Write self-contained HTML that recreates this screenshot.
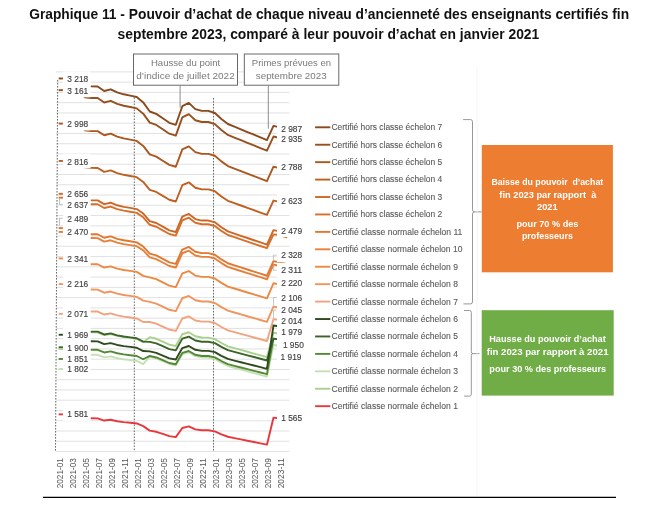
<!DOCTYPE html><html><head><meta charset="utf-8"><style>html,body{margin:0;padding:0;background:#fff}svg{display:block}text{font-family:"Liberation Sans",Arial,sans-serif}.n{font-size:8.7px;fill:#404040;stroke:#404040;stroke-width:0.15px}.lg{font-size:8.5px;fill:#595959;stroke:#595959;stroke-width:0.1px}.ax{font-size:8.4px;fill:#555}</style></head><body>
<svg width="647" height="508" viewBox="0 0 647 508">
<rect width="647" height="508" fill="#fff"/>
<text x="29.2" y="18.6" font-size="14.3" font-weight="bold" fill="#111" textLength="599.9" lengthAdjust="spacingAndGlyphs">Graphique 11 - Pouvoir d’achat de chaque niveau d’ancienneté des enseignants certifiés fin</text>
<text x="117.6" y="39.4" font-size="14.3" font-weight="bold" fill="#111" textLength="421.7" lengthAdjust="spacingAndGlyphs">septembre 2023, comparé à leur pouvoir d’achat en janvier 2021</text>
<path d="M55.9 71.90H289.4 M55.9 82.16H289.4 M55.9 92.42H289.4 M55.9 102.68H289.4 M55.9 112.94H289.4 M55.9 123.20H289.4 M55.9 133.46H289.4 M55.9 143.72H289.4 M55.9 153.98H289.4 M55.9 164.24H289.4 M55.9 174.50H289.4 M55.9 184.76H289.4 M55.9 195.02H289.4 M55.9 205.28H289.4 M55.9 215.54H289.4 M55.9 225.80H289.4 M55.9 236.06H289.4 M55.9 246.32H289.4 M55.9 256.58H289.4 M55.9 266.84H289.4 M55.9 277.10H289.4 M55.9 287.36H289.4 M55.9 297.62H289.4 M55.9 307.88H289.4 M55.9 318.14H289.4 M55.9 328.40H289.4 M55.9 338.66H289.4 M55.9 348.92H289.4 M55.9 359.18H289.4 M55.9 369.44H289.4 M55.9 379.70H289.4 M55.9 389.96H289.4 M55.9 400.22H289.4 M55.9 410.48H289.4 M55.9 420.74H289.4 M55.9 431.00H289.4 M55.9 441.26H289.4 M55.9 451.52H289.4" stroke="#d9d9d9" stroke-width="0.8" fill="none"/>
<path d="M57.7 80L55.5 451M134.3 97.5V451M213.5 97.9V451" stroke="#4a4a4a" stroke-width="0.85" stroke-dasharray="1.6 1.4" fill="none"/>
<path d="M91.16 86.40 L97.67 86.50 L104.18 91.00 L110.69 89.30 L117.20 92.40 L123.71 94.30 L130.22 95.60 L136.73 97.00 L143.24 102.40 L149.75 111.50 L156.27 113.90 L162.78 118.30 L169.29 122.80 L175.80 124.80 L182.31 106.20 L188.82 102.90 L195.33 109.10 L201.84 110.90 L208.35 110.90 L214.86 113.00 L221.38 119.00 L227.89 124.00 L234.40 126.68 L240.91 129.37 L247.42 132.05 L253.93 134.73 L260.44 137.42 L266.95 140.10 L273.46 125.87 L279.97 127.40 L286.49 128.93" stroke="#8a4a1e" stroke-width="1.9" fill="none" stroke-linejoin="round" stroke-linecap="round"/>
<path d="M84.64 97.36 L91.16 97.96 L97.67 98.05 L104.18 102.47 L110.69 100.80 L117.20 103.85 L123.71 105.72 L130.22 106.99 L136.73 108.37 L143.24 113.67 L149.75 122.61 L156.27 124.97 L162.78 129.29 L169.29 133.71 L175.80 135.68 L182.31 117.41 L188.82 114.16 L195.33 120.25 L201.84 122.02 L208.35 122.02 L214.86 124.08 L221.38 129.98 L227.89 134.89 L234.40 137.53 L240.91 140.16 L247.42 142.80 L253.93 145.43 L260.44 148.07 L266.95 150.70 L273.46 136.54 L279.97 138.04 L286.49 139.55" stroke="#98501f" stroke-width="1.9" fill="none" stroke-linejoin="round" stroke-linecap="round"/>
<path d="M84.64 130.40 L91.16 131.00 L97.67 131.09 L104.18 135.29 L110.69 133.70 L117.20 136.59 L123.71 138.36 L130.22 139.57 L136.73 140.88 L143.24 145.91 L149.75 154.39 L156.27 156.62 L162.78 160.72 L169.29 164.91 L175.80 166.78 L182.31 149.45 L188.82 146.37 L195.33 152.15 L201.84 153.83 L208.35 153.83 L214.86 155.78 L221.38 161.37 L227.89 166.03 L234.40 168.53 L240.91 171.03 L247.42 173.53 L253.93 176.03 L260.44 178.53 L266.95 181.03 L273.46 166.70 L279.97 168.13 L286.49 169.56" stroke="#ad571e" stroke-width="1.9" fill="none" stroke-linejoin="round" stroke-linecap="round"/>
<path d="M84.64 167.30 L91.16 167.90 L97.67 167.99 L104.18 171.92 L110.69 170.44 L117.20 173.15 L123.71 174.81 L130.22 175.95 L136.73 177.18 L143.24 181.90 L149.75 189.86 L156.27 191.96 L162.78 195.81 L169.29 199.75 L175.80 201.50 L182.31 185.23 L188.82 182.34 L195.33 187.76 L201.84 189.34 L208.35 189.34 L214.86 191.18 L221.38 196.43 L227.89 200.80 L234.40 203.15 L240.91 205.50 L247.42 207.85 L253.93 210.19 L260.44 212.54 L266.95 214.89 L273.46 200.56 L279.97 201.91 L286.49 203.25" stroke="#bf5f20" stroke-width="1.9" fill="none" stroke-linejoin="round" stroke-linecap="round"/>
<path d="M91.16 200.34 L97.67 200.42 L104.18 204.13 L110.69 202.73 L117.20 205.29 L123.71 206.86 L130.22 207.93 L136.73 209.09 L143.24 213.54 L149.75 221.05 L156.27 223.03 L162.78 226.67 L169.29 230.38 L175.80 232.03 L182.31 216.68 L188.82 213.96 L195.33 219.07 L201.84 220.56 L208.35 220.56 L214.86 222.29 L221.38 227.24 L227.89 231.37 L234.40 233.59 L240.91 235.80 L247.42 238.01 L253.93 240.23 L260.44 242.44 L266.95 244.66 L273.46 230.11 L279.97 231.38 L286.49 232.65" stroke="#cc6826" stroke-width="1.9" fill="none" stroke-linejoin="round" stroke-linecap="round"/>
<path d="M91.16 204.19 L97.67 204.27 L104.18 207.96 L110.69 206.57 L117.20 209.11 L123.71 210.66 L130.22 211.73 L136.73 212.88 L143.24 217.30 L149.75 224.76 L156.27 226.72 L162.78 230.33 L169.29 234.02 L175.80 235.66 L182.31 220.41 L188.82 217.71 L195.33 222.79 L201.84 224.27 L208.35 224.27 L214.86 225.99 L221.38 230.90 L227.89 235.00 L234.40 237.20 L240.91 239.40 L247.42 241.60 L253.93 243.80 L260.44 245.99 L266.95 248.19 L273.46 234.42 L279.97 235.00 L286.49 237.30" stroke="#d8702b" stroke-width="1.9" fill="none" stroke-linejoin="round" stroke-linecap="round"/>
<path d="M91.16 234.19 L97.67 234.27 L104.18 237.75 L110.69 236.44 L117.20 238.83 L123.71 240.30 L130.22 241.31 L136.73 242.39 L143.24 246.57 L149.75 253.61 L156.27 255.46 L162.78 258.87 L169.29 262.35 L175.80 263.89 L182.31 249.51 L188.82 246.96 L195.33 251.75 L201.84 253.14 L208.35 253.14 L214.86 254.77 L221.38 259.41 L227.89 263.28 L234.40 265.35 L240.91 267.43 L247.42 269.50 L253.93 271.58 L260.44 273.65 L266.95 275.73 L273.46 261.09 L279.97 262.20 L286.49 264.00" stroke="#df7830" stroke-width="1.9" fill="none" stroke-linejoin="round" stroke-linecap="round"/>
<path d="M91.16 238.05 L97.67 238.12 L104.18 241.58 L110.69 240.27 L117.20 242.65 L123.71 244.11 L130.22 245.11 L136.73 246.18 L143.24 250.33 L149.75 257.31 L156.27 259.15 L162.78 262.53 L169.29 265.98 L175.80 267.52 L182.31 253.24 L188.82 250.71 L195.33 255.47 L201.84 256.85 L208.35 256.85 L214.86 258.46 L221.38 263.07 L227.89 266.91 L234.40 268.97 L240.91 271.02 L247.42 273.08 L253.93 275.14 L260.44 277.20 L266.95 279.26 L273.46 264.58 L279.97 265.77 L286.49 266.95" stroke="#e6803a" stroke-width="1.9" fill="none" stroke-linejoin="round" stroke-linecap="round"/>
<path d="M91.16 264.20 L97.67 264.27 L104.18 267.54 L110.69 266.31 L117.20 268.56 L123.71 269.95 L130.22 270.89 L136.73 271.91 L143.24 275.84 L149.75 277.36 L156.27 279.12 L162.78 282.36 L169.29 285.67 L175.80 287.14 L182.31 273.46 L188.82 271.03 L195.33 275.59 L201.84 276.92 L208.35 276.92 L214.86 278.46 L221.38 282.87 L227.89 286.55 L234.40 288.53 L240.91 290.50 L247.42 292.47 L253.93 294.45 L260.44 296.42 L266.95 298.40 L273.46 283.26 L279.97 284.39 L286.49 285.53" stroke="#ec8943" stroke-width="1.9" fill="none" stroke-linejoin="round" stroke-linecap="round"/>
<path d="M91.16 289.54 L97.67 289.61 L104.18 292.71 L110.69 291.54 L117.20 293.67 L123.71 294.98 L130.22 295.88 L136.73 296.84 L143.24 300.56 L149.75 301.92 L156.27 303.60 L162.78 306.66 L169.29 309.79 L175.80 311.19 L182.31 298.23 L188.82 295.94 L195.33 300.25 L201.84 301.51 L208.35 301.51 L214.86 302.97 L221.38 307.15 L227.89 310.63 L234.40 312.50 L240.91 314.37 L247.42 316.24 L253.93 318.11 L260.44 319.97 L266.95 321.84 L273.46 306.65 L279.97 307.73 L286.49 308.81" stroke="#f0955e" stroke-width="1.9" fill="none" stroke-linejoin="round" stroke-linecap="round"/>
<path d="M91.16 311.50 L97.67 311.57 L104.18 314.51 L110.69 313.40 L117.20 315.43 L123.71 316.67 L130.22 317.53 L136.73 318.44 L143.24 321.98 L149.75 322.04 L156.27 323.63 L162.78 326.56 L169.29 329.55 L175.80 330.88 L182.31 318.52 L188.82 316.33 L195.33 320.45 L201.84 321.64 L208.35 321.64 L214.86 323.04 L221.38 327.02 L227.89 330.34 L234.40 332.13 L240.91 333.91 L247.42 335.69 L253.93 337.48 L260.44 339.26 L266.95 341.04 L273.46 319.17 L279.97 320.22 L286.49 321.26" stroke="#f3a37f" stroke-width="1.9" fill="none" stroke-linejoin="round" stroke-linecap="round"/>
<path d="M91.16 354.70 L97.67 354.76 L104.18 357.41 L110.69 356.41 L117.20 358.23 L123.71 359.35 L130.22 360.12 L136.73 360.94 L143.24 364.12 L149.75 356.68 L156.27 358.28 L162.78 361.10 L169.29 363.98 L175.80 365.34 L182.31 354.14 L188.82 352.27 L195.33 356.19 L201.84 357.42 L208.35 357.56 L214.86 358.98 L221.38 362.77 L227.89 365.96 L234.40 367.73 L240.91 369.51 L247.42 371.28 L253.93 373.05 L260.44 374.83 L266.95 376.60 L273.46 345.02 L279.97 346.01 L286.49 346.99" stroke="#c5e0b4" stroke-width="1.9" fill="none" stroke-linejoin="round" stroke-linecap="round"/>
<path d="M91.16 332.20 L97.67 332.26 L104.18 335.07 L110.69 334.01 L117.20 335.94 L123.71 337.12 L130.22 337.93 L136.73 338.81 L143.24 342.17 L149.75 337.14 L156.27 338.78 L162.78 341.69 L169.29 344.67 L175.80 346.05 L182.31 334.23 L188.82 332.22 L195.33 336.28 L201.84 337.53 L208.35 337.63 L214.86 339.07 L221.38 343.01 L227.89 346.31 L234.40 348.12 L240.91 349.94 L247.42 351.75 L253.93 353.57 L260.44 355.38 L266.95 357.20 L273.46 332.71 L279.97 333.72 L286.49 334.74" stroke="#a9d18e" stroke-width="1.9" fill="none" stroke-linejoin="round" stroke-linecap="round"/>
<path d="M91.16 349.70 L97.67 349.76 L104.18 352.44 L110.69 351.43 L117.20 353.28 L123.71 354.41 L130.22 355.19 L136.73 356.02 L143.24 359.24 L149.75 355.97 L156.27 357.48 L162.78 360.21 L169.29 363.00 L175.80 364.26 L182.31 352.95 L188.82 350.98 L195.33 354.81 L201.84 355.95 L208.35 355.99 L214.86 357.32 L221.38 361.02 L227.89 364.12 L234.40 365.80 L240.91 367.48 L247.42 369.16 L253.93 370.84 L260.44 372.52 L266.95 374.20 L273.46 338.66 L279.97 339.66 L286.49 340.66" stroke="#548a35" stroke-width="1.9" fill="none" stroke-linejoin="round" stroke-linecap="round"/>
<path d="M91.16 331.60 L97.67 331.66 L104.18 334.47 L110.69 333.41 L117.20 335.34 L123.71 336.53 L130.22 337.34 L136.73 338.22 L143.24 341.59 L149.75 341.87 L156.27 343.41 L162.78 346.23 L169.29 349.11 L175.80 350.40 L182.31 338.66 L188.82 336.60 L195.33 340.56 L201.84 341.73 L208.35 341.75 L214.86 343.11 L221.38 346.94 L227.89 350.13 L234.40 351.86 L240.91 353.59 L247.42 355.32 L253.93 357.04 L260.44 358.77 L266.95 360.50 L273.46 338.66 L279.97 339.66 L286.49 340.66" stroke="#3c6328" stroke-width="1.9" fill="none" stroke-linejoin="round" stroke-linecap="round"/>
<path d="M91.16 341.30 L97.67 341.36 L104.18 344.10 L110.69 343.07 L117.20 344.96 L123.71 346.11 L130.22 346.91 L136.73 347.76 L143.24 351.05 L149.75 351.39 L156.27 352.86 L162.78 355.56 L169.29 358.33 L175.80 359.55 L182.31 348.05 L188.82 346.00 L195.33 349.81 L201.84 350.91 L208.35 350.89 L214.86 352.18 L221.38 355.87 L227.89 358.94 L234.40 360.59 L240.91 362.23 L247.42 363.87 L253.93 365.51 L260.44 367.16 L266.95 368.80 L273.46 325.53 L279.97 326.56 L286.49 327.59" stroke="#2f4a1f" stroke-width="1.9" fill="none" stroke-linejoin="round" stroke-linecap="round"/>
<path d="M91.16 418.28 L97.67 418.33 L104.18 420.54 L110.69 419.70 L117.20 421.22 L123.71 422.16 L130.22 422.80 L136.73 423.48 L143.24 426.14 L149.75 430.61 L156.27 431.79 L162.78 433.95 L169.29 436.16 L175.80 437.14 L182.31 428.00 L188.82 426.38 L195.33 429.43 L201.84 430.31 L208.35 430.31 L214.86 431.35 L221.38 434.29 L227.89 436.75 L234.40 438.07 L240.91 439.39 L247.42 440.70 L253.93 442.02 L260.44 443.34 L266.95 444.66 L273.46 417.66 L279.97 418.46 L286.49 419.27" stroke="#e8383d" stroke-width="1.9" fill="none" stroke-linejoin="round" stroke-linecap="round"/>
<rect x="63" y="71.4" width="27.6" height="14.3" fill="#fff"/>
<rect x="63" y="83.0" width="27.6" height="14.3" fill="#fff"/>
<rect x="63" y="116.2" width="27.6" height="14.3" fill="#fff"/>
<rect x="63" y="153.8" width="27.6" height="14.3" fill="#fff"/>
<rect x="63" y="186.2" width="27.6" height="14.3" fill="#fff"/>
<rect x="63" y="197.1" width="27.6" height="14.3" fill="#fff"/>
<rect x="63" y="211.2" width="27.6" height="14.3" fill="#fff"/>
<rect x="63" y="224.1" width="27.6" height="14.3" fill="#fff"/>
<rect x="63" y="250.9" width="27.6" height="14.3" fill="#fff"/>
<rect x="63" y="276.2" width="27.6" height="14.3" fill="#fff"/>
<rect x="63" y="306.1" width="27.6" height="14.3" fill="#fff"/>
<rect x="63" y="327.0" width="27.6" height="14.3" fill="#fff"/>
<rect x="63" y="340.6" width="27.6" height="14.3" fill="#fff"/>
<rect x="63" y="351.2" width="27.6" height="14.3" fill="#fff"/>
<rect x="63" y="361.2" width="27.6" height="14.3" fill="#fff"/>
<rect x="63" y="406.6" width="27.6" height="14.3" fill="#fff"/>
<path d="M58.7 78.47H62.9" stroke="#8a4a1e" stroke-width="1.9"/>
<path d="M58.7 90.16H62.9" stroke="#98501f" stroke-width="1.9"/>
<path d="M58.7 123.61H62.9" stroke="#ad571e" stroke-width="1.9"/>
<path d="M58.7 160.96H62.9" stroke="#bf5f20" stroke-width="1.9"/>
<path d="M58.7 193.79H62.9" stroke="#cc6826" stroke-width="1.9"/>
<path d="M58.7 197.69H62.9" stroke="#d8702b" stroke-width="1.9"/>
<path d="M58.7 228.06H62.9" stroke="#df7830" stroke-width="1.9"/>
<path d="M58.7 231.96H62.9" stroke="#e6803a" stroke-width="1.9"/>
<path d="M58.7 258.43H62.9" stroke="#ec8943" stroke-width="1.9"/>
<path d="M58.7 284.08H62.9" stroke="#f0955e" stroke-width="1.9"/>
<path d="M58.7 313.83H62.9" stroke="#f3a37f" stroke-width="1.9"/>
<path d="M58.7 334.76H62.9" stroke="#2f4a1f" stroke-width="1.9"/>
<path d="M58.7 347.28H62.9" stroke="#3c6328" stroke-width="1.9"/>
<path d="M58.7 358.97H62.9" stroke="#548a35" stroke-width="1.9"/>
<path d="M58.7 369.03H62.9" stroke="#c5e0b4" stroke-width="1.9"/>
<path d="M58.7 348.92H62.9" stroke="#a9d18e" stroke-width="1.9"/>
<path d="M58.7 414.38H62.9" stroke="#e8383d" stroke-width="1.9"/>
<path d="M59.4 199V204.3H62.6M62.6 218.3H59.4V225.6" stroke="#a6a6a6" stroke-width="0.75" fill="none"/>
<text x="67.3" y="82.1" class="n" textLength="20.9" lengthAdjust="spacingAndGlyphs">3 218</text>
<text x="67.3" y="93.7" class="n" textLength="20.9" lengthAdjust="spacingAndGlyphs">3 161</text>
<text x="67.3" y="126.9" class="n" textLength="20.9" lengthAdjust="spacingAndGlyphs">2 998</text>
<text x="67.3" y="164.5" class="n" textLength="20.9" lengthAdjust="spacingAndGlyphs">2 816</text>
<text x="67.3" y="196.9" class="n" textLength="20.9" lengthAdjust="spacingAndGlyphs">2 656</text>
<text x="67.3" y="207.8" class="n" textLength="20.9" lengthAdjust="spacingAndGlyphs">2 637</text>
<text x="67.3" y="221.9" class="n" textLength="20.9" lengthAdjust="spacingAndGlyphs">2 489</text>
<text x="67.3" y="234.8" class="n" textLength="20.9" lengthAdjust="spacingAndGlyphs">2 470</text>
<text x="67.3" y="261.6" class="n" textLength="20.9" lengthAdjust="spacingAndGlyphs">2 341</text>
<text x="67.3" y="286.9" class="n" textLength="20.9" lengthAdjust="spacingAndGlyphs">2 216</text>
<text x="67.3" y="316.8" class="n" textLength="20.9" lengthAdjust="spacingAndGlyphs">2 071</text>
<text x="67.3" y="337.7" class="n" textLength="20.9" lengthAdjust="spacingAndGlyphs">1 969</text>
<text x="67.3" y="351.3" class="n" textLength="20.9" lengthAdjust="spacingAndGlyphs">1 900</text>
<text x="67.3" y="361.9" class="n" textLength="20.9" lengthAdjust="spacingAndGlyphs">1 851</text>
<text x="67.3" y="371.9" class="n" textLength="20.9" lengthAdjust="spacingAndGlyphs">1 802</text>
<text x="67.3" y="417.3" class="n" textLength="20.9" lengthAdjust="spacingAndGlyphs">1 581</text>
<rect x="277" y="120.9" width="28" height="14.3" fill="#fff"/>
<rect x="277" y="131.7" width="28" height="14.3" fill="#fff"/>
<rect x="277" y="159.5" width="28" height="14.3" fill="#fff"/>
<rect x="277" y="193.1" width="28" height="14.3" fill="#fff"/>
<rect x="277" y="222.8" width="28" height="14.3" fill="#fff"/>
<rect x="277" y="247.6" width="28" height="14.3" fill="#fff"/>
<rect x="277" y="262.7" width="28" height="14.3" fill="#fff"/>
<rect x="277" y="275.5" width="28" height="14.3" fill="#fff"/>
<rect x="277" y="290.2" width="28" height="14.3" fill="#fff"/>
<rect x="277" y="302.6" width="28" height="14.3" fill="#fff"/>
<rect x="277" y="312.9" width="28" height="14.3" fill="#fff"/>
<rect x="277" y="324.7" width="28" height="14.3" fill="#fff"/>
<rect x="277" y="337.7" width="28" height="14.3" fill="#fff"/>
<rect x="277" y="349.6" width="28" height="14.3" fill="#fff"/>
<rect x="277" y="409.9" width="28" height="14.3" fill="#fff"/>
<path d="M276.6 255.2H273.4V259.9M273.4 265.5V270.3H276.6M276.6 297.5H273.5V305.7M276.3 310.1H273.5V318" stroke="#b4b4b4" stroke-width="0.75" fill="none"/>
<text x="281.2" y="131.6" class="n" textLength="20.9" lengthAdjust="spacingAndGlyphs">2 987</text>
<text x="281.2" y="142.4" class="n" textLength="20.9" lengthAdjust="spacingAndGlyphs">2 935</text>
<text x="281.2" y="170.2" class="n" textLength="20.9" lengthAdjust="spacingAndGlyphs">2 788</text>
<text x="281.2" y="203.8" class="n" textLength="20.9" lengthAdjust="spacingAndGlyphs">2 623</text>
<text x="281.2" y="233.5" class="n" textLength="20.9" lengthAdjust="spacingAndGlyphs">2 479</text>
<text x="281.2" y="258.3" class="n" textLength="20.9" lengthAdjust="spacingAndGlyphs">2 328</text>
<text x="281.2" y="273.4" class="n" textLength="20.9" lengthAdjust="spacingAndGlyphs">2 311</text>
<text x="281.2" y="286.2" class="n" textLength="20.9" lengthAdjust="spacingAndGlyphs">2 220</text>
<text x="281.2" y="300.9" class="n" textLength="20.9" lengthAdjust="spacingAndGlyphs">2 106</text>
<text x="281.2" y="313.3" class="n" textLength="20.9" lengthAdjust="spacingAndGlyphs">2 045</text>
<text x="281.2" y="323.6" class="n" textLength="20.9" lengthAdjust="spacingAndGlyphs">2 014</text>
<text x="281.2" y="335.4" class="n" textLength="20.9" lengthAdjust="spacingAndGlyphs">1 979</text>
<text x="282.9" y="348.4" class="n" textLength="20.9" lengthAdjust="spacingAndGlyphs">1 950</text>
<text x="280.6" y="360.3" class="n" textLength="20.9" lengthAdjust="spacingAndGlyphs">1 919</text>
<text x="281.2" y="420.6" class="n" textLength="20.9" lengthAdjust="spacingAndGlyphs">1 565</text>
<rect x="133.5" y="54" width="104" height="31.2" fill="#fff" stroke="#595959" stroke-width="0.9"/>
<rect x="244.3" y="54" width="94.5" height="31.2" fill="#fff" stroke="#595959" stroke-width="0.9"/>
<path d="M180.1 85.6V107.8M268.3 85.6V128.7" stroke="#808080" stroke-width="0.9" fill="none"/>
<text x="150.9" y="66.1" font-size="9.8" fill="#7a7a7a" textLength="69.3" lengthAdjust="spacingAndGlyphs">Hausse du point</text>
<text x="136.3" y="79" font-size="9.8" fill="#7a7a7a" textLength="98.4" lengthAdjust="spacingAndGlyphs">d’indice de juillet 2022</text>
<text x="251.8" y="66.2" font-size="9.8" fill="#7a7a7a" textLength="79.3" lengthAdjust="spacingAndGlyphs">Primes prévues en</text>
<text x="255.8" y="78.8" font-size="9.8" fill="#7a7a7a" textLength="70.9" lengthAdjust="spacingAndGlyphs">septembre 2023</text>
<text transform="translate(62.80 488.3) rotate(-90)" class="ax" textLength="30.2" lengthAdjust="spacingAndGlyphs">2021-01</text>
<text transform="translate(75.82 488.3) rotate(-90)" class="ax" textLength="30.2" lengthAdjust="spacingAndGlyphs">2021-03</text>
<text transform="translate(88.84 488.3) rotate(-90)" class="ax" textLength="30.2" lengthAdjust="spacingAndGlyphs">2021-05</text>
<text transform="translate(101.87 488.3) rotate(-90)" class="ax" textLength="30.2" lengthAdjust="spacingAndGlyphs">2021-07</text>
<text transform="translate(114.89 488.3) rotate(-90)" class="ax" textLength="30.2" lengthAdjust="spacingAndGlyphs">2021-09</text>
<text transform="translate(127.91 488.3) rotate(-90)" class="ax" textLength="30.2" lengthAdjust="spacingAndGlyphs">2021-11</text>
<text transform="translate(140.93 488.3) rotate(-90)" class="ax" textLength="30.2" lengthAdjust="spacingAndGlyphs">2022-01</text>
<text transform="translate(153.95 488.3) rotate(-90)" class="ax" textLength="30.2" lengthAdjust="spacingAndGlyphs">2022-03</text>
<text transform="translate(166.98 488.3) rotate(-90)" class="ax" textLength="30.2" lengthAdjust="spacingAndGlyphs">2022-05</text>
<text transform="translate(180.00 488.3) rotate(-90)" class="ax" textLength="30.2" lengthAdjust="spacingAndGlyphs">2022-07</text>
<text transform="translate(193.02 488.3) rotate(-90)" class="ax" textLength="30.2" lengthAdjust="spacingAndGlyphs">2022-09</text>
<text transform="translate(206.04 488.3) rotate(-90)" class="ax" textLength="30.2" lengthAdjust="spacingAndGlyphs">2022-11</text>
<text transform="translate(219.06 488.3) rotate(-90)" class="ax" textLength="30.2" lengthAdjust="spacingAndGlyphs">2023-01</text>
<text transform="translate(232.09 488.3) rotate(-90)" class="ax" textLength="30.2" lengthAdjust="spacingAndGlyphs">2023-03</text>
<text transform="translate(245.11 488.3) rotate(-90)" class="ax" textLength="30.2" lengthAdjust="spacingAndGlyphs">2023-05</text>
<text transform="translate(258.13 488.3) rotate(-90)" class="ax" textLength="30.2" lengthAdjust="spacingAndGlyphs">2023-07</text>
<text transform="translate(271.15 488.3) rotate(-90)" class="ax" textLength="30.2" lengthAdjust="spacingAndGlyphs">2023-09</text>
<text transform="translate(284.17 488.3) rotate(-90)" class="ax" textLength="30.2" lengthAdjust="spacingAndGlyphs">2023-11</text>
<path d="M315.1 127.30H330.3" stroke="#8a4a1e" stroke-width="1.9"/>
<text x="331.5" y="130.20" class="lg" textLength="110.7" lengthAdjust="spacingAndGlyphs">Certifié hors classe échelon 7</text>
<path d="M315.1 144.73H330.3" stroke="#98501f" stroke-width="1.9"/>
<text x="331.5" y="147.63" class="lg" textLength="110.7" lengthAdjust="spacingAndGlyphs">Certifié hors classe échelon 6</text>
<path d="M315.1 162.16H330.3" stroke="#ad571e" stroke-width="1.9"/>
<text x="331.5" y="165.06" class="lg" textLength="110.7" lengthAdjust="spacingAndGlyphs">Certifié hors classe échelon 5</text>
<path d="M315.1 179.59H330.3" stroke="#bf5f20" stroke-width="1.9"/>
<text x="331.5" y="182.49" class="lg" textLength="110.7" lengthAdjust="spacingAndGlyphs">Certifié hors classe échelon 4</text>
<path d="M315.1 197.02H330.3" stroke="#cc6826" stroke-width="1.9"/>
<text x="331.5" y="199.92" class="lg" textLength="110.7" lengthAdjust="spacingAndGlyphs">Certifié hors classe échelon 3</text>
<path d="M315.1 214.45H330.3" stroke="#d8702b" stroke-width="1.9"/>
<text x="331.5" y="217.35" class="lg" textLength="110.7" lengthAdjust="spacingAndGlyphs">Certifié hors classe échelon 2</text>
<path d="M315.1 231.88H330.3" stroke="#df7830" stroke-width="1.9"/>
<text x="331.5" y="234.78" class="lg" textLength="130.9" lengthAdjust="spacingAndGlyphs">Certifié classe normale échelon 11</text>
<path d="M315.1 249.31H330.3" stroke="#e6803a" stroke-width="1.9"/>
<text x="331.5" y="252.21" class="lg" textLength="130.9" lengthAdjust="spacingAndGlyphs">Certifié classe normale échelon 10</text>
<path d="M315.1 266.74H330.3" stroke="#ec8943" stroke-width="1.9"/>
<text x="331.5" y="269.64" class="lg" textLength="126.4" lengthAdjust="spacingAndGlyphs">Certifié classe normale échelon 9</text>
<path d="M315.1 284.17H330.3" stroke="#f0955e" stroke-width="1.9"/>
<text x="331.5" y="287.07" class="lg" textLength="126.4" lengthAdjust="spacingAndGlyphs">Certifié classe normale échelon 8</text>
<path d="M315.1 301.60H330.3" stroke="#f3a37f" stroke-width="1.9"/>
<text x="331.5" y="304.50" class="lg" textLength="126.4" lengthAdjust="spacingAndGlyphs">Certifié classe normale échelon 7</text>
<path d="M315.1 319.03H330.3" stroke="#2f4a1f" stroke-width="1.9"/>
<text x="331.5" y="321.93" class="lg" textLength="126.4" lengthAdjust="spacingAndGlyphs">Certifié classe normale échelon 6</text>
<path d="M315.1 336.46H330.3" stroke="#3c6328" stroke-width="1.9"/>
<text x="331.5" y="339.36" class="lg" textLength="126.4" lengthAdjust="spacingAndGlyphs">Certifié classe normale échelon 5</text>
<path d="M315.1 353.89H330.3" stroke="#548a35" stroke-width="1.9"/>
<text x="331.5" y="356.79" class="lg" textLength="126.4" lengthAdjust="spacingAndGlyphs">Certifié classe normale échelon 4</text>
<path d="M315.1 371.32H330.3" stroke="#c5e0b4" stroke-width="1.9"/>
<text x="331.5" y="374.22" class="lg" textLength="126.4" lengthAdjust="spacingAndGlyphs">Certifié classe normale échelon 3</text>
<path d="M315.1 388.75H330.3" stroke="#a9d18e" stroke-width="1.9"/>
<text x="331.5" y="391.65" class="lg" textLength="126.4" lengthAdjust="spacingAndGlyphs">Certifié classe normale échelon 2</text>
<path d="M315.1 406.18H330.3" stroke="#e8383d" stroke-width="1.9"/>
<text x="331.5" y="409.08" class="lg" textLength="126.4" lengthAdjust="spacingAndGlyphs">Certifié classe normale échelon 1</text>
<path d="M463.1 119.6H470.5Q472.5 119.6 472.5 121.6V209.9Q472.5 211.9 474.5 211.9H481.6M474.5 211.9Q472.5 211.9 472.5 213.9V301.9Q472.5 303.9 470.5 303.9H463.4" stroke="#8c8c8c" stroke-width="0.9" fill="none"/>
<path d="M464 310.5H469.5Q471.3 310.5 471.3 312.3V351.8Q471.3 353.6 473.1 353.6H479.4M473.1 353.6Q471.3 353.6 471.3 355.4V394.3Q471.3 396.1 469.5 396.1H464.1" stroke="#8c8c8c" stroke-width="0.9" fill="none"/>
<rect x="481.8" y="145" width="131.1" height="127.3" fill="#ed7d31"/>
<text x="491.4" y="185.1" font-size="9.8" font-weight="bold" fill="#fff" textLength="111.8" lengthAdjust="spacingAndGlyphs" xml:space="preserve">Baisse du pouvoir  d’achat</text>
<text x="499.3" y="197.6" font-size="9.8" font-weight="bold" fill="#fff" textLength="97.0" lengthAdjust="spacingAndGlyphs" xml:space="preserve">fin 2023 par rapport  à</text>
<text x="537.0" y="210.2" font-size="9.8" font-weight="bold" fill="#fff" textLength="20.7" lengthAdjust="spacingAndGlyphs" xml:space="preserve">2021</text>
<text x="516.4" y="227.4" font-size="9.8" font-weight="bold" fill="#fff" textLength="62.0" lengthAdjust="spacingAndGlyphs" xml:space="preserve">pour 70 % des</text>
<text x="521.9" y="239.2" font-size="9.8" font-weight="bold" fill="#fff" textLength="51.0" lengthAdjust="spacingAndGlyphs" xml:space="preserve">professeurs</text>
<rect x="481.7" y="310.2" width="132" height="85.4" fill="#70ad47"/>
<text x="489.3" y="342.2" font-size="9.8" font-weight="bold" fill="#fff" textLength="116.4" lengthAdjust="spacingAndGlyphs">Hausse du pouvoir d’achat</text>
<text x="486.7" y="354.7" font-size="9.8" font-weight="bold" fill="#fff" textLength="121.8" lengthAdjust="spacingAndGlyphs">fin 2023 par rapport à 2021</text>
<text x="489.3" y="372.0" font-size="9.8" font-weight="bold" fill="#fff" textLength="116.8" lengthAdjust="spacingAndGlyphs">pour 30 % des professeurs</text>
<path d="M477.1 65.7V496" stroke="#f4f4f4" stroke-width="0.8"/>
<path d="M43 497.4H616" stroke="#000" stroke-width="1.3"/>
</svg></body></html>
